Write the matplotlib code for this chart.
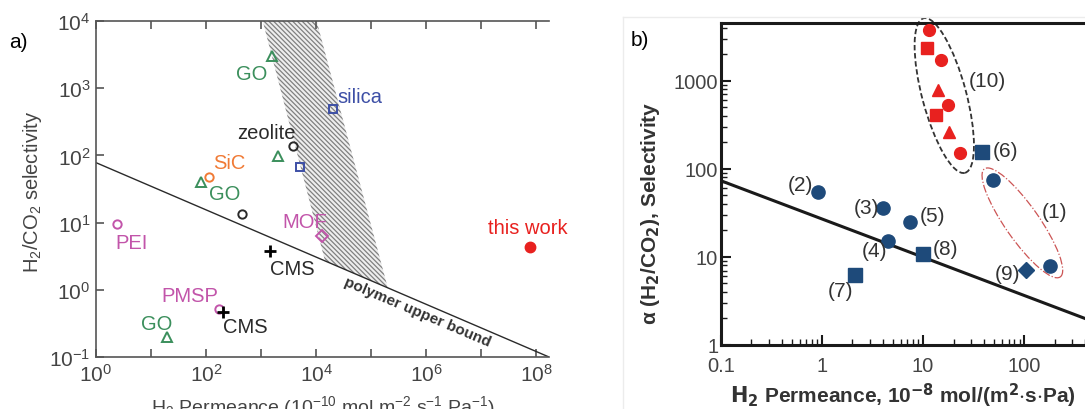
import numpy as np
import matplotlib
matplotlib.use("Agg")
import matplotlib.pyplot as plt
import matplotlib.transforms as mtransforms
from matplotlib.patches import Ellipse, Polygon
from matplotlib.lines import Line2D
from matplotlib.ticker import FixedLocator, FuncFormatter, LogLocator, NullFormatter

plt.rcParams['font.family'] = ['Liberation Sans', 'DejaVu Sans']
plt.rcParams['mathtext.default'] = 'regular'
plt.rcParams['hatch.linewidth'] = 0.9

# ---- panel a data (permeance 1e-10 mol/m2/s/Pa, H2/CO2 selectivity)
go_perm = [1550, 2000, 81, 19.5]
go_sel = [3000, 98, 40, 0.2]
silica_perm = [20000, 5000]
silica_sel = [490, 67]
zeolite_perm = [3800, 450]
zeolite_sel = [140, 13.5]
sic_perm = [112]
sic_sel = [48]
pei_perm = [2.4]
pei_sel = [9.5]
mof_perm = [12600]
mof_sel = [6.3]
pmsp_perm = [175]
pmsp_sel = [0.52]
cms_perm = [1440, 200]
cms_sel = [3.8, 0.47]
this_perm = [7.6e7]
this_sel = [4.4]
bound_a_perm = [1, 1.7e8]
bound_a_sel = [78, 0.1]
band_left_perm = [1.07e3, 1.45e4]   # left edge of hatched band (top, bottom)
band_right_perm = [1.02e4, 2.0e5]   # right edge of hatched band (top, bottom)

# ---- panel b data (permeance 1e-8 mol/(m2 s Pa))
blue_circ_perm = [0.91, 4.0, 7.4, 4.5, 182, 49]
blue_circ_sel = [55, 36, 25, 15, 7.9, 75]
blue_sq_perm = [10, 2.1, 38]
blue_sq_sel = [10.8, 6.3, 155]
blue_dia_perm = [105]
blue_dia_sel = [7.1]
red_circ_perm = [11.5, 15, 17.8, 23]
red_circ_sel = [3700, 1700, 530, 152]
red_sq_perm = [11, 13.5]
red_sq_sel = [2370, 410]
red_tri_perm = [14, 18]
red_tri_sel = [790, 263]
bound_b_perm = [0.1, 400]
bound_b_sel = [73, 2.0]

GREEN = '#3b8f5c'
ORANGE = '#f07a35'
BLUE = '#3d4fa6'
MAGENTA = '#c255aa'
RED = '#e8211f'
DARK = '#2a2a2a'
NAVY = '#1e4a7a'

fig = plt.figure(figsize=(10.85, 4.1), dpi=100)

# faint frame of the pasted panel b
fig.add_artist(Line2D([623 / 1085, 623 / 1085], [0, 1 - 18 / 410], color='#ececec', lw=1))
fig.add_artist(Line2D([623 / 1085, 1], [1 - 18 / 410, 1 - 18 / 410], color='#ececec', lw=1))

# ================= panel a =================
ax = fig.add_axes([96 / 1085, 52 / 410, 453 / 1085, 336 / 410])
ax.set_xscale('log')
ax.set_yscale('log')
ax.set_xlim(1, 1.7e8)
ax.set_ylim(0.1, 1e4)

# hatched band, bottom edge follows the upper bound line
def bound_a(p):
    return 10 ** np.interp(np.log10(p), np.log10(bound_a_perm), np.log10(bound_a_sel))

band = Polygon([(band_left_perm[0], 1e4), (band_right_perm[0], 1e4),
                (band_right_perm[1], bound_a(band_right_perm[1])),
                (band_left_perm[1], bound_a(band_left_perm[1]))],
               closed=True, facecolor='#eeeeee', edgecolor='#808080', linewidth=0,
               hatch='\\\\\\\\\\\\\\', zorder=1)
ax.add_patch(band)

ax.plot(bound_a_perm, bound_a_sel, color=DARK, lw=1.0, zorder=2)

ms = 6
ax.plot(go_perm, go_sel, '^', ms=ms + 1, mfc='none', mec=GREEN, mew=1.4, zorder=3)
ax.plot(silica_perm, silica_sel, 's', ms=ms, mfc='none', mec=BLUE, mew=1.4, zorder=3)
ax.plot(zeolite_perm, zeolite_sel, 'o', ms=ms, mfc='none', mec=DARK, mew=1.4, zorder=3)
ax.plot(sic_perm, sic_sel, 'o', ms=ms, mfc='none', mec=ORANGE, mew=1.4, zorder=3)
ax.plot(pei_perm, pei_sel, 'o', ms=ms, mfc='none', mec=MAGENTA, mew=1.4, zorder=3)
ax.plot(pmsp_perm, pmsp_sel, 'o', ms=ms, mfc='none', mec=MAGENTA, mew=1.4, zorder=3)
ax.plot(mof_perm, mof_sel, 'D', ms=ms, mfc='none', mec=MAGENTA, mew=1.4, zorder=3)
ax.plot(cms_perm, cms_sel, '+', ms=ms + 3, mec='black', mew=2, zorder=4)
ax.plot(this_perm, this_sel, 'o', ms=7.5, mfc=RED, mec=RED, zorder=3)

fs = 14.5
ax.text(676, 1630, 'GO', color=GREEN, fontsize=fs, ha='center', va='center')
ax.text(6.2e4, 760, 'silica', color=BLUE, fontsize=fs, ha='center', va='center')
ax.text(1260, 222, 'zeolite', color=DARK, fontsize=fs, ha='center', va='center')
ax.text(260, 79, 'SiC', color=ORANGE, fontsize=fs, ha='center', va='center')
ax.text(219, 27, 'GO', color=GREEN, fontsize=fs, ha='center', va='center')
ax.text(4.5, 5.1, 'PEI', color=MAGENTA, fontsize=fs, ha='center', va='center')
ax.text(6200, 10.5, 'MOF', color=MAGENTA, fontsize=fs, ha='center', va='center')
ax.text(3760, 2.04, 'CMS', color=DARK, fontsize=fs, ha='center', va='center')
ax.text(6.9e7, 8.6, 'this work', color=RED, fontsize=fs, ha='center', va='center')
ax.text(51, 0.81, 'PMSP', color=MAGENTA, fontsize=fs, ha='center', va='center')
ax.text(526, 0.28, 'CMS', color=DARK, fontsize=fs, ha='center', va='center')
ax.text(12.8, 0.31, 'GO', color=GREEN, fontsize=fs, ha='center', va='center')
ax.text(6.9e5, 0.48, 'polymer upper bound', color='#333333', fontsize=11,
        fontweight='bold', ha='center', va='center', rotation=-23)

ax.spines['right'].set_visible(False)
for s in ['left', 'top', 'bottom']:
    ax.spines[s].set_color('#555555')
    ax.spines[s].set_linewidth(1.2)
ax.xaxis.set_major_locator(FixedLocator([10.0 ** k for k in range(0, 9)]))
ax.xaxis.set_major_formatter(FuncFormatter(
    lambda v, p: '$10^{%d}$' % round(np.log10(v)) if round(np.log10(v)) % 2 == 0 else ''))
ax.yaxis.set_major_locator(FixedLocator([10.0 ** k for k in range(-1, 5)]))
ax.yaxis.set_major_formatter(FuncFormatter(lambda v, p: '$10^{%d}$' % round(np.log10(v))))
ax.xaxis.set_minor_locator(FixedLocator([]))
ax.yaxis.set_minor_locator(FixedLocator([]))
ax.tick_params(which='major', direction='in', length=6, width=1.2, color='#555555',
               labelsize=15, labelcolor='#444444', top=True, pad=4)
ax.set_xlabel('$H_2$ Permeance ($10^{-10}$ mol m$^{-2}$ s$^{-1}$ Pa$^{-1}$)',
              fontsize=14, color='#444444', labelpad=6)
fig.text(33 / 1085, 1 - 192 / 410, '$H_2$/$CO_2$ selectivity', rotation=90,
         fontsize=14.5, color='#444444', ha='center', va='center')
fig.text(18 / 1085, 1 - 42 / 410, 'a)', fontsize=15, color='black', ha='center', va='center')

# ================= panel b =================
bx = fig.add_axes([721 / 1085, 64 / 410, 364 / 1085, 322 / 410])
bx.set_xscale('log')
bx.set_yscale('log')
bx.set_xlim(0.1, 400)
bx.set_ylim(1, 4500)

bx.plot(bound_b_perm, bound_b_sel, color='#1a1a1a', lw=2.2, zorder=2)

bx.plot(blue_circ_perm, blue_circ_sel, 'o', ms=9.5, color=NAVY, zorder=3)
bx.plot(blue_sq_perm, blue_sq_sel, 's', ms=9.5, color=NAVY, zorder=3)
bx.plot(blue_dia_perm, blue_dia_sel, 'D', ms=8.5, color=NAVY, zorder=3)
bx.plot(red_circ_perm, red_circ_sel, 'o', ms=8.5, color=RED, zorder=3, clip_on=False)
bx.plot(red_sq_perm, red_sq_sel, 's', ms=8.5, color=RED, zorder=3)
bx.plot(red_tri_perm, red_tri_sel, '^', ms=8.5, color=RED, zorder=3)

# dashed envelopes drawn in screen units around a data-space centre
def envelope(cx, cy, w, h, ang, **kw):
    tr = fig.dpi_scale_trans + mtransforms.ScaledTranslation(cx, cy, bx.transData)
    e = Ellipse((0, 0), w, h, angle=ang, transform=tr, fill=False, clip_on=False, **kw)
    bx.add_patch(e)

envelope(16.2, 676, 0.44, 1.6, 15, ec='#333333', lw=1.3, ls=(0, (3, 1.5)))
envelope(96, 24.3, 0.34, 1.32, 35, ec='#cc5555', lw=0.9, ls='-.')

lfs = 15
for txt, px, py in [('(2)', 0.605, 67), ('(3)', 2.73, 36), ('(5)', 12.3, 29.2),
                    ('(4)', 3.27, 11.7), ('(8)', 16.5, 12.3), ('(7)', 1.51, 4.1),
                    ('(9)', 69, 6.4), ('(1)', 200, 32.5), ('(6)', 65, 160),
                    ('(10)', 43, 1000)]:
    bx.text(px, py, txt, fontsize=lfs, color='#333333', ha='center', va='center')

bx.spines['right'].set_visible(False)
for s in ['left', 'top', 'bottom']:
    bx.spines[s].set_color('#1a1a1a')
    bx.spines[s].set_linewidth(2.2)
bx.xaxis.set_major_locator(FixedLocator([0.1, 1, 10, 100]))
bx.xaxis.set_major_formatter(FuncFormatter(lambda v, p: '%g' % v))
bx.yaxis.set_major_locator(FixedLocator([1, 10, 100, 1000]))
bx.yaxis.set_major_formatter(FuncFormatter(lambda v, p: '%g' % v))
bx.xaxis.set_minor_locator(LogLocator(base=10, subs=np.arange(2, 10)))
bx.yaxis.set_minor_locator(LogLocator(base=10, subs=np.arange(2, 10)))
bx.xaxis.set_minor_formatter(NullFormatter())
bx.yaxis.set_minor_formatter(NullFormatter())
bx.tick_params(which='major', direction='in', length=7, width=1.5, color='#1a1a1a',
               labelsize=14.5, labelcolor='#444444')
bx.tick_params(axis='x', which='major', pad=8)
bx.tick_params(axis='y', which='major', pad=2)
bx.tick_params(which='minor', direction='in', length=4, width=1.0, color='#1a1a1a')
bx.set_xlabel('$\\mathbf{H_2}$ Permeance, 10$^{\\mathbf{-8}}$ mol/(m$^{\\mathbf{2}}$$\\cdot$s$\\cdot$Pa)',
              fontsize=15, fontweight='bold', color='#333333', labelpad=4)
fig.text(650 / 1085, 1 - 213 / 410, '$\\alpha$ (H$_\\mathbf{2}$/CO$_\\mathbf{2}$), Selectivity',
         rotation=90, fontsize=15, fontweight='bold', color='#333333', ha='center', va='center')
fig.text(640 / 1085, 1 - 40 / 410, 'b)', fontsize=15, color='black', ha='center', va='center')

fig.savefig('out.png', dpi=100)
